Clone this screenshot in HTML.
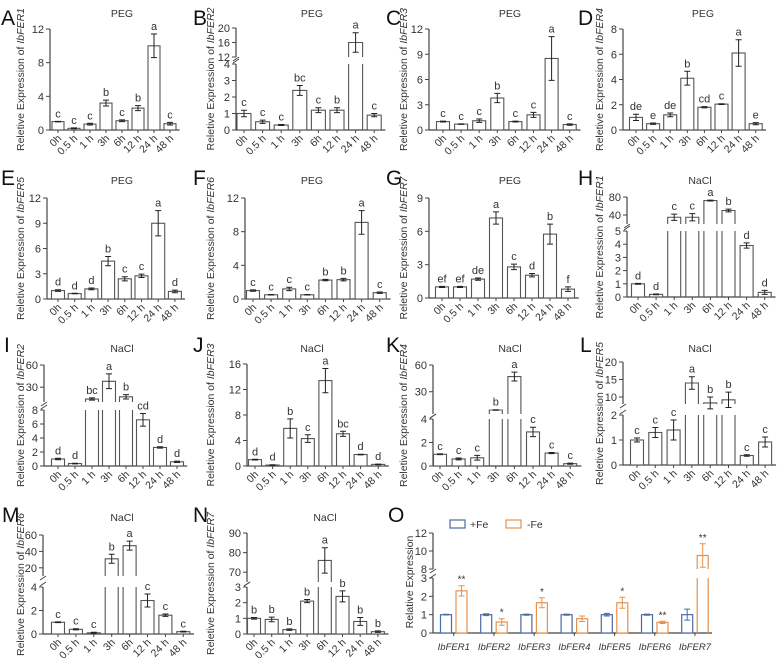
<!DOCTYPE html>
<html><head><meta charset="utf-8"><style>
body{margin:0;background:#fff}
svg{display:block;font-family:"Liberation Sans",sans-serif}
</style></head><body>
<svg id="fig" width="778" height="658" viewBox="0 0 778 658" xmlns="http://www.w3.org/2000/svg"></svg>
<script>
const timeLabels = ["0h","0.5 h","1 h","3h","6h","12 h","24 h","48 h"];
const valuesA = [1,0.2,0.7,3.2,1.1,2.6,10,0.75];
const errorsA = [0.03,0.05,0.1,0.35,0.1,0.3,1.4,0.15];
const lettersA = ["c","c","c","b","c","b","a","c"];
const valuesB = [1,0.5,0.3,2.4,1.2,1.2,16,0.9];
const errorsB = [0.2,0.1,0.03,0.3,0.15,0.15,2.7,0.1];
const lettersB = ["c","c","c","bc","c","b","a","c"];
const valuesC = [1,0.7,1.1,3.8,1,1.8,8.5,0.65];
const errorsC = [0.05,0.03,0.2,0.55,0.05,0.3,2.6,0.08];
const lettersC = ["c","c","c","b","c","c","a","c"];
const valuesD = [1,0.5,1.2,4.1,1.8,2.05,6.1,0.5];
const errorsD = [0.25,0.05,0.15,0.55,0.05,0.03,1.05,0.08];
const lettersD = ["de","e","de","b","cd","c","a","e"];
const valuesE = [1,0.65,1.2,4.5,2.4,2.75,9,0.9];
const errorsE = [0.1,0.03,0.1,0.55,0.25,0.2,1.5,0.15];
const lettersE = ["d","d","d","b","c","c","a","d"];
const valuesF = [1,0.5,1.2,0.5,2.25,2.3,9.1,0.75];
const errorsF = [0.08,0.03,0.2,0.03,0.08,0.15,1.4,0.08];
const lettersF = ["c","c","c","c","b","b","a","c"];
const valuesG = [1,1,1.7,7.2,2.8,2.05,5.75,0.8];
const errorsG = [0.05,0.05,0.1,0.55,0.25,0.15,0.9,0.2];
const lettersG = ["ef","ef","de","a","c","d","b","f"];
const valuesH = [1,0.2,35,35,72,50,3.9,0.35];
const errorsH = [0.03,0.03,7,8,1,3,0.2,0.15];
const lettersH = ["d","d","c","c","a","b","d","d"];
const valuesI = [1,0.35,14,38,17,6.6,2.65,0.6];
const errorsI = [0.1,0.05,1.5,10,3,0.9,0.1,0.1];
const lettersI = ["d","d","bc","a","b","cd","d","d"];
const valuesJ = [1,0.15,5.9,4.3,13.4,5.05,1.8,0.25];
const errorsJ = [0.05,0.05,1.5,0.6,1.9,0.4,0.05,0.05];
const lettersJ = ["d","d","b","c","a","bc","d","d"];
const valuesK = [1,0.6,0.7,9.5,47,2.9,1.1,0.2];
const errorsK = [0.03,0.08,0.2,0.3,5,0.4,0.05,0.05];
const lettersK = ["c","c","c","b","a","c","c","c"];
const valuesL = [1,1.3,1.4,14,8.3,9.2,0.38,0.92];
const errorsL = [0.08,0.2,0.4,1.8,1.7,2.2,0.03,0.2];
const lettersL = ["c","c","c","a","b","b","c","c"];
const valuesM = [1,0.4,0.1,31,47,2.85,1.6,0.2];
const errorsM = [0.03,0.05,0.05,5.5,5.5,0.55,0.1,0.03];
const lettersM = ["c","c","c","b","a","c","c","c"];
const valuesN = [1,0.93,0.28,2.1,76,2.4,0.8,0.15];
const errorsN = [0.05,0.15,0.05,0.1,6.5,0.35,0.25,0.05];
const lettersN = ["b","b","b","b","a","b","b","b"];
const genesO = ["IbFER1","IbFER2","IbFER3","IbFER4","IbFER5","IbFER6","IbFER7"];
const plusFe = [1,1,1,1,1,1,1];
const plusFeErr = [0.02,0.05,0.03,0.03,0.07,0.03,0.3];
const minusFe = [2.3,0.6,1.65,0.78,1.65,0.58,9.5];
const minusFeErr = [0.28,0.18,0.27,0.15,0.3,0.06,1.3];
const starsO = ["**","*","*","","*","**","**"];

const NS="http://www.w3.org/2000/svg";
const svg=document.getElementById('fig');
function mk(tag,attrs,parent){const e=document.createElementNS(NS,tag);for(const k in attrs)e.setAttribute(k,attrs[k]);(parent||svg).appendChild(e);return e;}
const AX="#444", BAR="#555", TXT="#333";

function makeY(c){
  return function(v){
    if(!c.hi || v<=c.loMax) return c.bot-(Math.min(v,c.loMax)/c.loMax)*(c.bot-c.loTop);
    const [hmin,hmax,hb,ht]=c.hi;
    return hb-(v-hmin)/(hmax-hmin)*(hb-ht);
  };
}

function panel(c,vals,errs,lets){
  const g=mk('g',{});
  
  
  const y=makeY(c);
  const L=mk('text',{x:c.lx,y:c.ly,'font-size':21,fill:'#111'},g);L.textContent=c.letter;
  
  
  const T=mk('text',{x:c.tx,y:c.ty,'font-size':10.5,fill:TXT,'text-anchor':'middle'},g);T.textContent=c.title;
  
  
  const top=c.hi?c.hi[3]:c.loTop;
  const midY=(top+c.bot)/2;
  const yl=mk('text',{x:0,y:0,'font-size':10.5,fill:TXT,'text-anchor':'middle',transform:`translate(${c.ylx},${midY}) rotate(-90)`},g);
  
  
  const t1=mk('tspan',{},yl);t1.textContent="Reletive Expression of ";
  const t2=mk('tspan',{'font-style':'italic'},yl);t2.textContent="IbFER"+c.gene;
  // y axis
  const ya=mk('line',{x1:c.ax,x2:c.ax,y1:c.bot,y2:c.loTop,stroke:AX,'stroke-width':1.2},g);
  
  
  c.ticksLo.forEach(t=>{
    const yy=y(t);
    mk('line',{x1:c.ax-4,x2:c.ax,y1:yy,y2:yy,stroke:AX},g);
    const tl=mk('text',{x:c.ax-6,y:yy+4,'font-size':11,fill:TXT,'text-anchor':'end'},g);tl.textContent=t;
    
    
  });
  if(c.hi){
    const ya2=mk('line',{x1:c.ax,x2:c.ax,y1:c.hi[2],y2:c.hi[3],stroke:AX,'stroke-width':1.2},g);
    
    
    c.ticksHi.forEach(t=>{
      const yy=y(t);
      mk('line',{x1:c.ax-4,x2:c.ax,y1:yy,y2:yy,stroke:AX},g);
      const tl=mk('text',{x:c.ax-6,y:yy+4,'font-size':11,fill:TXT,'text-anchor':'end'},g);tl.textContent=t;
      
      
    });
    const m1=c.loTop-2, m2=c.hi[2]+2;
    mk('line',{x1:c.ax-3,x2:c.ax+3,y1:m1+1,y2:m1-3,stroke:AX},g);
    mk('line',{x1:c.ax-3,x2:c.ax+3,y1:m2+2,y2:m2-2,stroke:AX},g);
  }
  const xEnd=c.c0+7*c.dx+c.dx*0.6;
  const xa=mk('line',{x1:c.ax,x2:xEnd,y1:c.bot,y2:c.bot,stroke:AX,'stroke-width':1.2},g);
  
  
  vals.forEach((v,i)=>{
    const cx=c.c0+i*c.dx, h=c.bw/2;
    if(!c.hi || v<=c.loMax){
      const r=mk('rect',{x:cx-h,y:y(v),width:c.bw,height:c.bot-y(v),fill:'#fff',stroke:BAR,'stroke-width':1.1},g);
      
      
    } else {
      const p=mk('path',{d:`M${cx-h},${c.bot}V${c.loTop}M${cx+h},${c.bot}V${c.loTop}M${cx-h},${c.hi[2]}V${y(v)}H${cx+h}V${c.hi[2]}`,fill:'none',stroke:BAR,'stroke-width':1.1},g);
      
      
    }
    const e=errs[i], yt=y(v+e), yb=y(Math.max(v-e,0));
    mk('path',{d:`M${cx},${yb}V${yt}M${cx-3},${yt}H${cx+3}M${cx-3},${yb}H${cx+3}`,stroke:'#222','stroke-width':1},g);
    const lt=mk('text',{x:cx,y:yt-4,'font-size':11,fill:TXT,'text-anchor':'middle'},g);lt.textContent=lets[i];
    
    
    mk('line',{x1:cx,x2:cx,y1:c.bot,y2:c.bot+3,stroke:AX},g);
    const xl=mk('text',{x:0,y:0,'font-size':10.5,fill:TXT,'text-anchor':'end',transform:`translate(${cx+4},${c.bot+9}) rotate(-45)`},g);xl.textContent=timeLabels[i];
    
    
  });
}

panel({letter:'A',gene:1,title:'PEG',ax:50,bot:130,loMax:12,loTop:29,ticksLo:[0,4,8,12],c0:58,dx:16,bw:12,tx:122,ty:17,lx:1,ly:25,ylx:24},valuesA,errorsA,lettersA);
panel({letter:'B',gene:2,title:'PEG',ax:236,bot:130,loMax:4,loTop:64,hi:[12,20,57,28],ticksLo:[0,1,2,3,4],ticksHi:[12,16,20],c0:244,dx:18.6,bw:14,tx:312,ty:17,lx:193,ly:25,ylx:214},valuesB,errorsB,lettersB);
panel({letter:'C',gene:3,title:'PEG',ax:429,bot:130,loMax:12,loTop:29,ticksLo:[0,3,6,9,12],c0:443,dx:18.1,bw:13,tx:510,ty:17,lx:386,ly:25,ylx:407},valuesC,errorsC,lettersC);
panel({letter:'D',gene:4,title:'PEG',ax:623,bot:130,loMax:8,loTop:29,ticksLo:[0,2,4,6,8],c0:636,dx:17.1,bw:13,tx:703,ty:17,lx:578,ly:25,ylx:603},valuesD,errorsD,lettersD);
panel({letter:'E',gene:5,title:'PEG',ax:47,bot:299,loMax:12,loTop:198,ticksLo:[0,3,6,9,12],c0:58,dx:16.7,bw:13,tx:122,ty:184,lx:1,ly:185,ylx:24},valuesE,errorsE,lettersE);
panel({letter:'F',gene:6,title:'PEG',ax:245,bot:299,loMax:12,loTop:198,ticksLo:[0,4,8,12],c0:253,dx:18.1,bw:13,tx:312,ty:184,lx:193,ly:185,ylx:214},valuesF,errorsF,lettersF);
panel({letter:'G',gene:7,title:'PEG',ax:429,bot:298,loMax:9,loTop:198,ticksLo:[0,3,6,9],c0:442,dx:18,bw:13,tx:510,ty:184,lx:386,ly:185,ylx:407},valuesG,errorsG,lettersG);
panel({letter:'H',gene:1,title:'NaCl',ax:627,bot:297,loMax:5,loTop:231,hi:[20,80,224,197],ticksLo:[0,1,2,3,4,5],ticksHi:[40,80],c0:638,dx:18.1,bw:13,tx:700,ty:184,lx:578,ly:185,ylx:603},valuesH,errorsH,lettersH);
panel({letter:'I',gene:2,title:'NaCl',ax:44,bot:466,loMax:8,loTop:410,hi:[10,60,402,365],ticksLo:[0,2,4,6,8],ticksHi:[30,60],c0:58,dx:17,bw:13,tx:122,ty:352,lx:4,ly:352,ylx:24},valuesI,errorsI,lettersI);
panel({letter:'J',gene:3,title:'NaCl',ax:247,bot:466,loMax:16,loTop:364,ticksLo:[0,4,8,12,16],c0:255,dx:17.6,bw:13,tx:312,ty:352,lx:193,ly:352,ylx:214},valuesJ,errorsJ,lettersJ);
panel({letter:'K',gene:4,title:'NaCl',ax:433,bot:466,loMax:4,loTop:419,hi:[5,60,414,365],ticksLo:[0,2,4],ticksHi:[30,60],c0:440,dx:18.6,bw:13,tx:510,ty:352,lx:386,ly:352,ylx:407},valuesK,errorsK,lettersK);
panel({letter:'L',gene:5,title:'NaCl',ax:623,bot:465,loMax:2,loTop:415,hi:[8,20,404,362],ticksLo:[0,1,2],ticksHi:[10,15,20],c0:637,dx:18.3,bw:13,tx:700,ty:352,lx:580,ly:352,ylx:603},valuesL,errorsL,lettersL);
panel({letter:'M',gene:6,title:'NaCl',ax:43,bot:634,loMax:4,loTop:587,hi:[10,60,576,535],ticksLo:[0,2,4],ticksHi:[20,40,60],c0:58,dx:17.9,bw:13,tx:122,ty:521,lx:2,ly:522,ylx:24},valuesM,errorsM,lettersM);
panel({letter:'N',gene:7,title:'NaCl',ax:247,bot:634,loMax:3,loTop:587,hi:[65,90,582,533],ticksLo:[0,1,2,3],ticksHi:[70,80,90],c0:254,dx:17.7,bw:13,tx:325,ty:521,lx:193,ly:522,ylx:214},valuesN,errorsN,lettersN);

// Panel O
(function(){
  const c={ax:433,bot:633,loMax:3,loTop:578,hi:[8,12,569,533]};
  const y=makeY(c);
  const BL="#4a6aa8", OR="#e8914a";
  const g=mk('g',{});
  
  
  const L=mk('text',{x:388,y:522,'font-size':21,fill:'#111'},g);L.textContent='O';
  
  
  const yl=mk('text',{x:0,y:0,'font-size':10.5,fill:TXT,'text-anchor':'middle',transform:'translate(413,582) rotate(-90)'},g);yl.textContent='Relative Expression';
  
  
  mk('line',{x1:c.ax,x2:c.ax,y1:c.bot,y2:c.loTop,stroke:AX,'stroke-width':1.2},g);
  mk('line',{x1:c.ax,x2:c.ax,y1:c.hi[2],y2:c.hi[3],stroke:AX,'stroke-width':1.2},g);
  mk('line',{x1:c.ax-3,x2:c.ax+3,y1:c.loTop,y2:c.loTop-4,stroke:AX},g);
  mk('line',{x1:c.ax-3,x2:c.ax+3,y1:c.hi[2]+4,y2:c.hi[2],stroke:AX},g);
  [0,1,2,3,8,10,12].forEach(t=>{
    const yy=y(t);
    mk('line',{x1:c.ax-4,x2:c.ax,y1:yy,y2:yy,stroke:AX},g);
    const tl=mk('text',{x:c.ax-6,y:yy+4,'font-size':11,fill:TXT,'text-anchor':'end'},g);tl.textContent=t;
    
    
  });
  const xa=mk('line',{x1:c.ax,x2:712,y1:c.bot,y2:c.bot,stroke:AX,'stroke-width':1.2},g);
  
  
  // legend
  const lb1=mk('rect',{x:450,y:520,width:15,height:8,fill:'#fff',stroke:BL,'stroke-width':1.2},g);
  
  
  const lt1=mk('text',{x:470,y:528,'font-size':10.5,fill:TXT},g);lt1.textContent='+Fe';
  
  
  const lb2=mk('rect',{x:506,y:520,width:15,height:8,fill:'#fff',stroke:OR,'stroke-width':1.2},g);
  
  
  const lt2=mk('text',{x:527,y:528,'font-size':10.5,fill:TXT},g);lt2.textContent='-Fe';
  
  
  const bw=11, g0=446, gd=40.2, off=15.5;
  function bar(cx,v,e,col){
    const h=bw/2;
    if(v<=c.loMax){
      const r=mk('rect',{x:cx-h,y:y(v),width:bw,height:c.bot-y(v),fill:'#fff',stroke:col,'stroke-width':1.2},g);
      
      
    } else {
      const p=mk('path',{d:`M${cx-h},${c.bot}V${c.loTop}M${cx+h},${c.bot}V${c.loTop}M${cx-h},${c.hi[2]}V${y(v)}H${cx+h}V${c.hi[2]}`,fill:'none',stroke:col,'stroke-width':1.2},g);
      
      
    }
    const yt=y(v+e), yb=y(v-e);
    mk('path',{d:`M${cx},${yb}V${yt}M${cx-3},${yt}H${cx+3}M${cx-3},${yb}H${cx+3}`,stroke:col,'stroke-width':1},g);
    return yt;
  }
  genesO.forEach((gn,i)=>{
    const x1=g0+i*gd, x2=x1+off;
    bar(x1,plusFe[i],plusFeErr[i],BL);
    const yt=bar(x2,minusFe[i],minusFeErr[i],OR);
    if(starsO[i]){
      const s=mk('text',{x:x2,y:yt-3,'font-size':10,fill:TXT,'text-anchor':'middle'},g);s.textContent=starsO[i];
      
      
    }
    mk('line',{x1:(x1+x2)/2,x2:(x1+x2)/2,y1:c.bot,y2:c.bot+3,stroke:AX},g);
    const xl=mk('text',{x:(x1+x2)/2,y:650,'font-size':9.5,'font-style':'italic',fill:TXT,'text-anchor':'middle'},g);xl.textContent=gn;
    
    
  });
})();
</script>
</body></html>
